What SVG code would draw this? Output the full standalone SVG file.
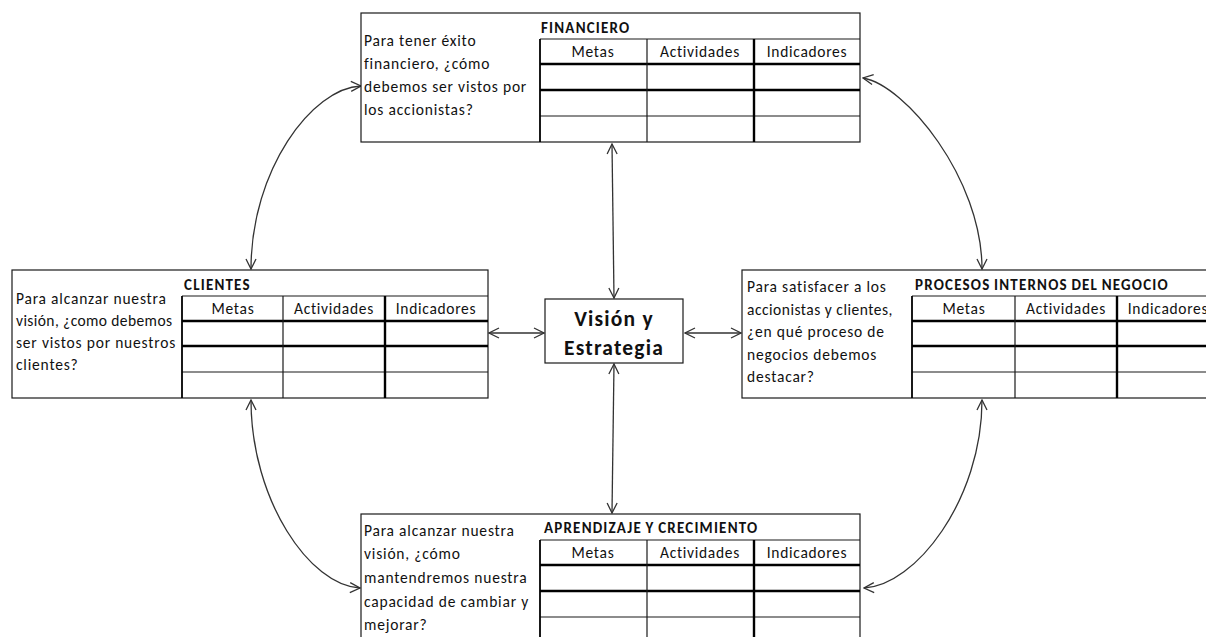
<svg xmlns="http://www.w3.org/2000/svg" width="1206" height="637" viewBox="0 0 1206 637">
<defs>
<style>
.box{fill:#fff;stroke:#1a1a1a;stroke-width:1.2}
.thin{stroke:#1a1a1a;stroke-width:1.2}
.thick{stroke:#000;stroke-width:2.4}
.mid{stroke:#000;stroke-width:1.8}
.q{font-family:Carlito,Lato,"Open Sans",sans-serif;font-size:15.5px;letter-spacing:0.8px;fill:#111}
.h{font-family:Carlito,Lato,"Open Sans",sans-serif;font-size:15.5px;letter-spacing:0.7px;fill:#111;text-anchor:middle}
.t{font-family:Carlito,Lato,"Open Sans",sans-serif;font-size:15px;font-weight:bold;letter-spacing:1.2px;word-spacing:-1px;fill:#111}
.c{font-family:Carlito,Lato,"Open Sans",sans-serif;font-size:21.5px;font-weight:bold;letter-spacing:1.2px;fill:#111;text-anchor:middle}
.conn{fill:none;stroke:#333;stroke-width:1.3;marker-start:url(#ah);marker-end:url(#ah)}
</style>
<marker id="ah" viewBox="0 0 12 12" refX="11" refY="6" markerWidth="12" markerHeight="12" markerUnits="userSpaceOnUse" orient="auto-start-reverse">
<path d="M1,1 L11,6 L1,11" fill="none" stroke="#333" stroke-width="1.3"/>
</marker>
</defs>
<rect width="1206" height="637" fill="#fff"/>

<g id="connectors">
<path class="conn" d="M361,86 C312,88 251,170 251,269"/>
<path class="conn" d="M863,78 C905,85 982,178 982,269"/>
<path class="conn" d="M251,400 C251,500 310,586 360,588"/>
<path class="conn" d="M982,400 C982,500 915,586 864,588"/>
<path class="conn" d="M612,144 L614,298"/>
<path class="conn" d="M614,364 L612,513"/>
<path class="conn" d="M489,333 L544,333"/>
<path class="conn" d="M685,333 L741,333"/>
</g>

<g id="node-financiero">
<rect class="box" x="361" y="13" width="499" height="129"/>
<line class="thin" x1="540" y1="39" x2="860" y2="39"/>
<line class="thick" x1="540" y1="64" x2="860" y2="64"/>
<line class="thick" x1="540" y1="90" x2="860" y2="90"/>
<line class="thin" x1="540" y1="116" x2="860" y2="116"/>
<line class="mid" x1="540" y1="39" x2="540" y2="142"/>
<line class="thin" x1="647" y1="39" x2="647" y2="142"/>
<line class="thick" x1="754" y1="39" x2="754" y2="142"/>
<text class="t" x="541" y="33">FINANCIERO</text>
<text class="h" x="593" y="57">Metas</text>
<text class="h" x="700" y="57">Actividades</text>
<text class="h" x="807" y="57">Indicadores</text>
<text class="q" x="364" y="46">Para tener éxito</text>
<text class="q" x="364" y="69">financiero, ¿cómo</text>
<text class="q" x="364" y="92">debemos ser vistos por</text>
<text class="q" x="364" y="115">los accionistas?</text>
</g>

<g id="node-clientes">
<rect class="box" x="12" y="270" width="476" height="128"/>
<line class="thin" x1="182" y1="296" x2="488" y2="296"/>
<line class="thick" x1="182" y1="321" x2="488" y2="321"/>
<line class="thick" x1="182" y1="346" x2="488" y2="346"/>
<line class="thin" x1="182" y1="372" x2="488" y2="372"/>
<line class="mid" x1="182" y1="296" x2="182" y2="398"/>
<line class="thin" x1="283" y1="296" x2="283" y2="398"/>
<line class="thick" x1="385" y1="296" x2="385" y2="398"/>
<text class="t" x="184" y="290">CLIENTES</text>
<text class="h" x="233" y="314">Metas</text>
<text class="h" x="334" y="314">Actividades</text>
<text class="h" x="436" y="314">Indicadores</text>
<text class="q" x="16" y="304">Para alcanzar nuestra</text>
<text class="q" x="16" y="326" style="letter-spacing:0.4px">visión, ¿como debemos</text>
<text class="q" x="16" y="348">ser vistos por nuestros</text>
<text class="q" x="16" y="370">clientes?</text>
</g>

<g id="node-procesos">
<rect class="box" x="742" y="270" width="490" height="128"/>
<line class="thin" x1="912" y1="296" x2="1220" y2="296"/>
<line class="thick" x1="912" y1="321" x2="1220" y2="321"/>
<line class="thick" x1="912" y1="346" x2="1220" y2="346"/>
<line class="thin" x1="912" y1="372" x2="1220" y2="372"/>
<line class="mid" x1="912" y1="296" x2="912" y2="398"/>
<line class="thin" x1="1015" y1="296" x2="1015" y2="398"/>
<line class="thick" x1="1117" y1="296" x2="1117" y2="398"/>
<text class="t" x="915" y="290">PROCESOS INTERNOS DEL NEGOCIO</text>
<text class="h" x="964" y="314">Metas</text>
<text class="h" x="1066" y="314">Actividades</text>
<text class="h" x="1168" y="314">Indicadores</text>
<text class="q" x="747" y="292">Para satisfacer a los</text>
<text class="q" x="747" y="315" style="letter-spacing:0.5px">accionistas y clientes,</text>
<text class="q" x="747" y="337">¿en qué proceso de</text>
<text class="q" x="747" y="360">negocios debemos</text>
<text class="q" x="747" y="382">destacar?</text>
</g>

<g id="node-aprendizaje">
<rect class="box" x="361" y="514" width="499" height="140"/>
<line class="thin" x1="540" y1="540" x2="860" y2="540"/>
<line class="thick" x1="540" y1="565" x2="860" y2="565"/>
<line class="thick" x1="540" y1="591" x2="860" y2="591"/>
<line class="thin" x1="540" y1="617" x2="860" y2="617"/>
<line class="mid" x1="540" y1="540" x2="540" y2="640"/>
<line class="thin" x1="647" y1="540" x2="647" y2="640"/>
<line class="thick" x1="754" y1="540" x2="754" y2="640"/>
<text class="t" x="544" y="533">APRENDIZAJE Y CRECIMIENTO</text>
<text class="h" x="593" y="558">Metas</text>
<text class="h" x="700" y="558">Actividades</text>
<text class="h" x="807" y="558">Indicadores</text>
<text class="q" x="364" y="536">Para alcanzar nuestra</text>
<text class="q" x="364" y="559">visión, ¿cómo</text>
<text class="q" x="364" y="583">mantendremos nuestra</text>
<text class="q" x="364" y="607">capacidad de cambiar y</text>
<text class="q" x="364" y="630">mejorar?</text>
</g>

<g id="node-vision">
<rect class="box" x="545" y="299" width="138" height="64" stroke-width="1.5"/>
<text class="c" x="614" y="326">Visión y</text>
<text class="c" x="614" y="355">Estrategia</text>
</g>
</svg>
